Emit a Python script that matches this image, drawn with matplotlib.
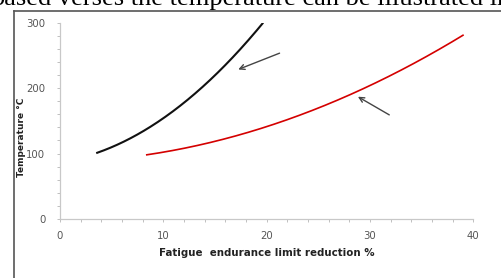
import numpy as np
import matplotlib; matplotlib.use("Agg")
import matplotlib.pyplot as plt
from matplotlib.ticker import MultipleLocator

# ---- data ----
black_x = [3.6, 6.5, 10.3, 13.5, 16.7, 19.6]
black_y = [101, 131, 162, 192, 238, 299]
red_x = [8.4, 14.8, 18.4, 28.0, 34.5, 39.0]
red_y = [98, 120, 140, 186, 232, 281]
# annotation arrows (tail -> head)
arrow_tails = [(21.5, 255), (32.1, 157)]
arrow_heads = [(17.0, 227), (28.6, 189)]

W, H = 501, 278
fig = plt.figure(figsize=(W / 100, H / 100), dpi=100)

# page text cut at top + frame around the chart
fig.text(-9 / W, 1 - 5 / H, "based verses the temperature can be illustrated in",
         family="Liberation Serif", fontsize=19, va="baseline", ha="left")
fig.add_artist(plt.Line2D([14 / W, 14 / W], [0, 1 - 11 / H], color="#555555", lw=1.2))
fig.add_artist(plt.Line2D([14 / W, 1], [1 - 11 / H, 1 - 11 / H], color="#555555", lw=1.2))

ax = fig.add_axes([60 / W, 1 - 219 / H, (473.3 - 60) / W, (219 - 22.7) / H])

def smooth(x, y):
    # quadratic trend, pinned near the end points
    c = np.polyfit(x, y, 2, w=[6, 1, 1, 1, 1, 6])
    xs = np.linspace(min(x), max(x), 200)
    return xs, np.polyval(c, xs)

ax.plot(*smooth(black_x, black_y), color="#111111", lw=1.5)
ax.plot(*smooth(red_x, red_y), color="#d40000", lw=1.2)

for (tx, ty), (hx, hy) in zip(arrow_tails, arrow_heads):
    ax.annotate("", xy=(hx, hy), xytext=(tx, ty),
                arrowprops=dict(arrowstyle="->", color="#444444", lw=1.0, mutation_scale=9))

ax.set_xlim(0, 40); ax.set_ylim(0, 300)
ax.xaxis.set_major_locator(MultipleLocator(10)); ax.xaxis.set_minor_locator(MultipleLocator(2))
ax.yaxis.set_major_locator(MultipleLocator(100)); ax.yaxis.set_minor_locator(MultipleLocator(20))
for s in ("top", "right"): ax.spines[s].set_visible(False)
for s in ("left", "bottom"): ax.spines[s].set_color("#c8c8c8"); ax.spines[s].set_linewidth(0.9)
ax.tick_params(which="both", direction="out", color="#c0c0c0", length=2.5, width=0.7,
               labelsize=7.3, labelcolor="#555555")
ax.tick_params(axis="x", pad=6)
ax.tick_params(axis="y", pad=8)
ax.set_facecolor("none")

fig.text(267 / W, 1 - 253 / H, "Fatigue  endurance limit reduction %", ha="center", va="center",
         fontsize=7.4, fontweight="bold", color="#222222")
fig.text(22 / W, 1 - 137 / H, "Temperature °C", ha="center", va="center", rotation=90,
         fontsize=6.5, fontweight="bold", color="#222222")

fig.savefig("out.png", dpi=100)
